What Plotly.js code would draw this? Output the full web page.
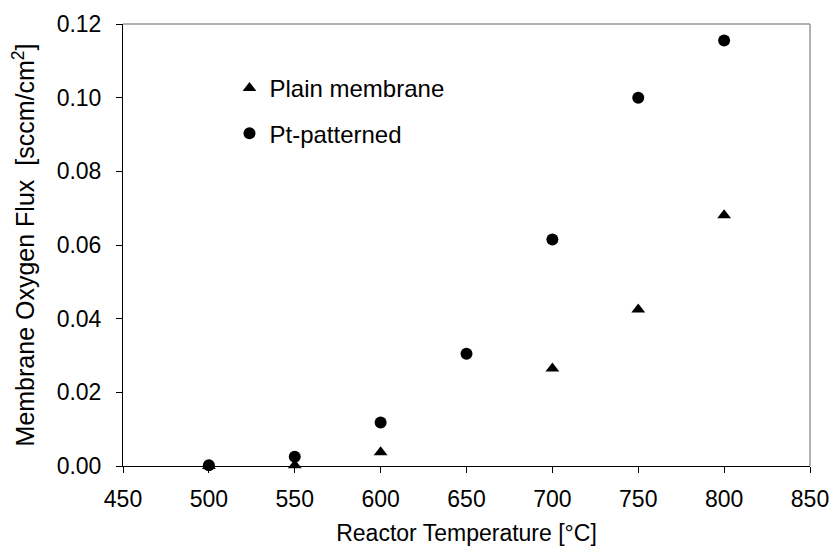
<!DOCTYPE html>
<html>
<head>
<script src="https://cdn.plot.ly/plotly-3.0.1.min.js"></script>
<style>html,body{margin:0;padding:0;background:#fff;}#chart{width:834px;height:556px;}</style>
</head>
<body>
<div id="chart"></div>
<script>
const temperaturePlain = [500, 550, 600, 700, 750, 800];
const fluxPlain = [0.0000, 0.0002, 0.0037, 0.0265, 0.0425, 0.0681];
const temperaturePt = [500, 550, 600, 650, 700, 750, 800];
const fluxPt = [0.0002, 0.0025, 0.0118, 0.0305, 0.0615, 0.1000, 0.1155];
const xTicks = [450, 500, 550, 600, 650, 700, 750, 800, 850];
const yTicks = [0, 0.02, 0.04, 0.06, 0.08, 0.10, 0.12];

const fam = 'Arial, "Liberation Sans", sans-serif';

const traces = [
  {x: temperaturePlain, y: fluxPlain, mode: 'markers', type: 'scatter', name: 'Plain membrane',
   legendgroup: 'a', cliponaxis: false,
   marker: {symbol: 'triangle-up', size: 12, color: '#000'}},
  {x: temperaturePt, y: fluxPt, mode: 'markers', type: 'scatter', name: 'Pt-patterned',
   legendgroup: 'b', cliponaxis: false,
   marker: {symbol: 'circle', size: 12, color: '#000'}}
];

const layout = {
  width: 834, height: 556,
  margin: {l: 123, r: 24, t: 24, b: 90},
  paper_bgcolor: '#fff', plot_bgcolor: '#fff',
  font: {family: fam, color: '#000', size: 23},
  showlegend: true,
  legend: {x: 0.155, y: 0.905, xanchor: 'left', yanchor: 'top', bgcolor: 'rgba(0,0,0,0)',
           font: {family: fam, size: 24, color: '#000'}, tracegroupgap: 11,
           itemwidth: 30},
  xaxis: {
    range: [450, 850], tickvals: xTicks,
    ticks: 'outside', ticklen: 6, tickcolor: '#000', showline: true, linecolor: '#000', linewidth: 1,
    showgrid: false, zeroline: false, ticklabelstandoff: 6,
    tickfont: {family: fam, size: 23, color: '#000'},
    title: {text: 'Reactor Temperature [°C]', font: {family: fam, size: 23, color: '#000'}, standoff: 14}
  },
  yaxis: {
    range: [0, 0.12], tickvals: yTicks, tickformat: '.2f',
    ticks: 'outside', ticklen: 6, tickcolor: '#000', showline: true, linecolor: '#000', linewidth: 1,
    showgrid: false, zeroline: false, ticklabelstandoff: 10,
    tickfont: {family: fam, size: 23, color: '#000'},
    title: {text: 'Membrane Oxygen Flux&nbsp; [sccm/cm<sup>2</sup>]', font: {family: fam, size: 25, color: '#000'}, standoff: 14}
  },
  shapes: [
    {type: 'line', xref: 'paper', yref: 'paper', x0: 0, x1: 1, y0: 1, y1: 1, line: {color: '#999', width: 1.5}},
    {type: 'line', xref: 'paper', yref: 'paper', x0: 1, x1: 1, y0: 0, y1: 1, line: {color: '#999', width: 1.5}}
  ]
};

Plotly.newPlot('chart', traces, layout, {displayModeBar: false, staticPlot: true});
</script>
</body>
</html>
